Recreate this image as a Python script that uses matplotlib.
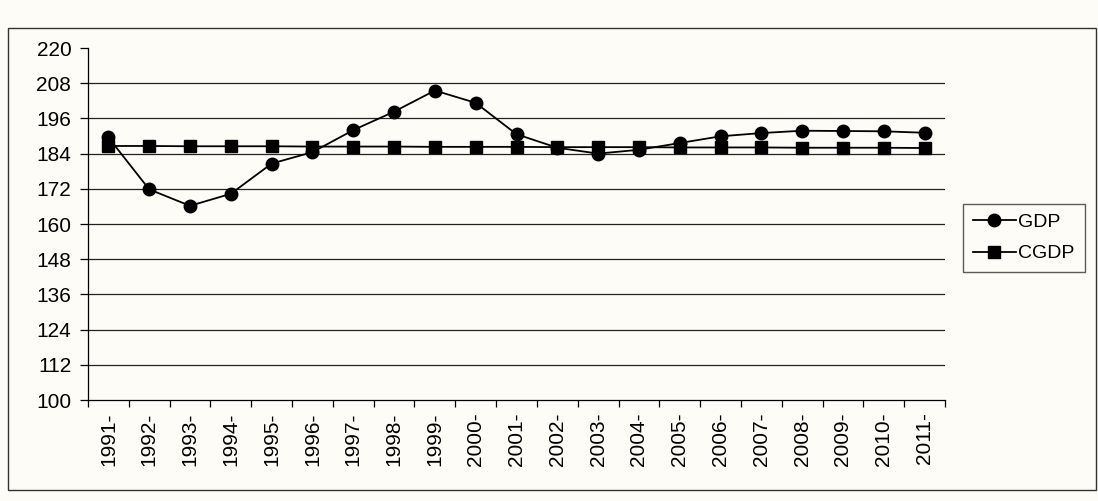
import matplotlib.pyplot as plt
from matplotlib.patches import Rectangle

plt.rcParams['font.family'] = ['Liberation Sans', 'DejaVu Sans']

years = [str(y) + "-" for y in range(1991, 2012)]
gdp = [189.5, 171.8, 166.2, 170.3, 180.6, 184.5, 192.0, 198.3, 205.5, 201.3, 190.6,
       186.0, 184.0, 185.3, 187.6, 189.9, 191.0, 191.8, 191.7, 191.6, 191.1]
cgdp = [186.6, 186.6, 186.5, 186.5, 186.5, 186.4, 186.4, 186.4, 186.3, 186.3, 186.3,
        186.2, 186.2, 186.2, 186.1, 186.1, 186.1, 186.0, 186.0, 186.0, 185.9]
yticks = [100, 112, 124, 136, 148, 160, 172, 184, 196, 208, 220]

bg = '#fdfcf7'
fig = plt.figure(figsize=(10.98, 5.01), dpi=100, facecolor=bg)
ax = fig.add_axes([88 / 1098, 101 / 501, 857 / 1098, 352 / 501])
ax.set_facecolor(bg)

# outer chart frame
fig.patches.append(Rectangle((8 / 1098, 11 / 501), 1088 / 1098, 462 / 501,
                             transform=fig.transFigure, fill=False,
                             edgecolor='#333333', lw=1.0))

x = list(range(len(years)))

# horizontal gridlines (none at the top value)
ax.hlines(yticks[1:-1], -0.5, len(years) - 0.5, colors='#222222', lw=0.9, zorder=1)

ax.plot(x, gdp, color='black', lw=1.3, marker='o', markersize=9, label='GDP', zorder=3)
ax.plot(x, cgdp, color='black', lw=1.3, marker='s', markersize=8.5, label='CGDP', zorder=3)

ax.set_xlim(-0.5, len(years) - 0.5)
ax.set_ylim(100, 220)
ax.set_yticks(yticks)
ax.tick_params(axis='y', labelsize=15, length=6, width=0.9, pad=6)

ax.set_xticks(x)
ax.set_xticklabels(years, rotation=90, fontsize=15)
ax.set_xticks([i - 0.5 for i in range(len(years) + 1)], minor=True)
ax.tick_params(axis='x', which='major', length=0, pad=9)
ax.tick_params(axis='x', which='minor', length=5, width=0.9)

for s in ['top', 'right']:
    ax.spines[s].set_visible(False)
for s in ['left', 'bottom']:
    ax.spines[s].set_linewidth(0.9)

leg = ax.legend(loc='center left', bbox_to_anchor=((963 - 88) / 857, 0.46),
                borderaxespad=0, fontsize=14, frameon=True, fancybox=False,
                edgecolor='#333333', handlelength=2.2, handletextpad=0.15,
                borderpad=0.5, labelspacing=0.7)
leg.get_frame().set_facecolor(bg)
leg.get_frame().set_linewidth(1.0)

fig.savefig('out.png', dpi=100, facecolor=bg)
